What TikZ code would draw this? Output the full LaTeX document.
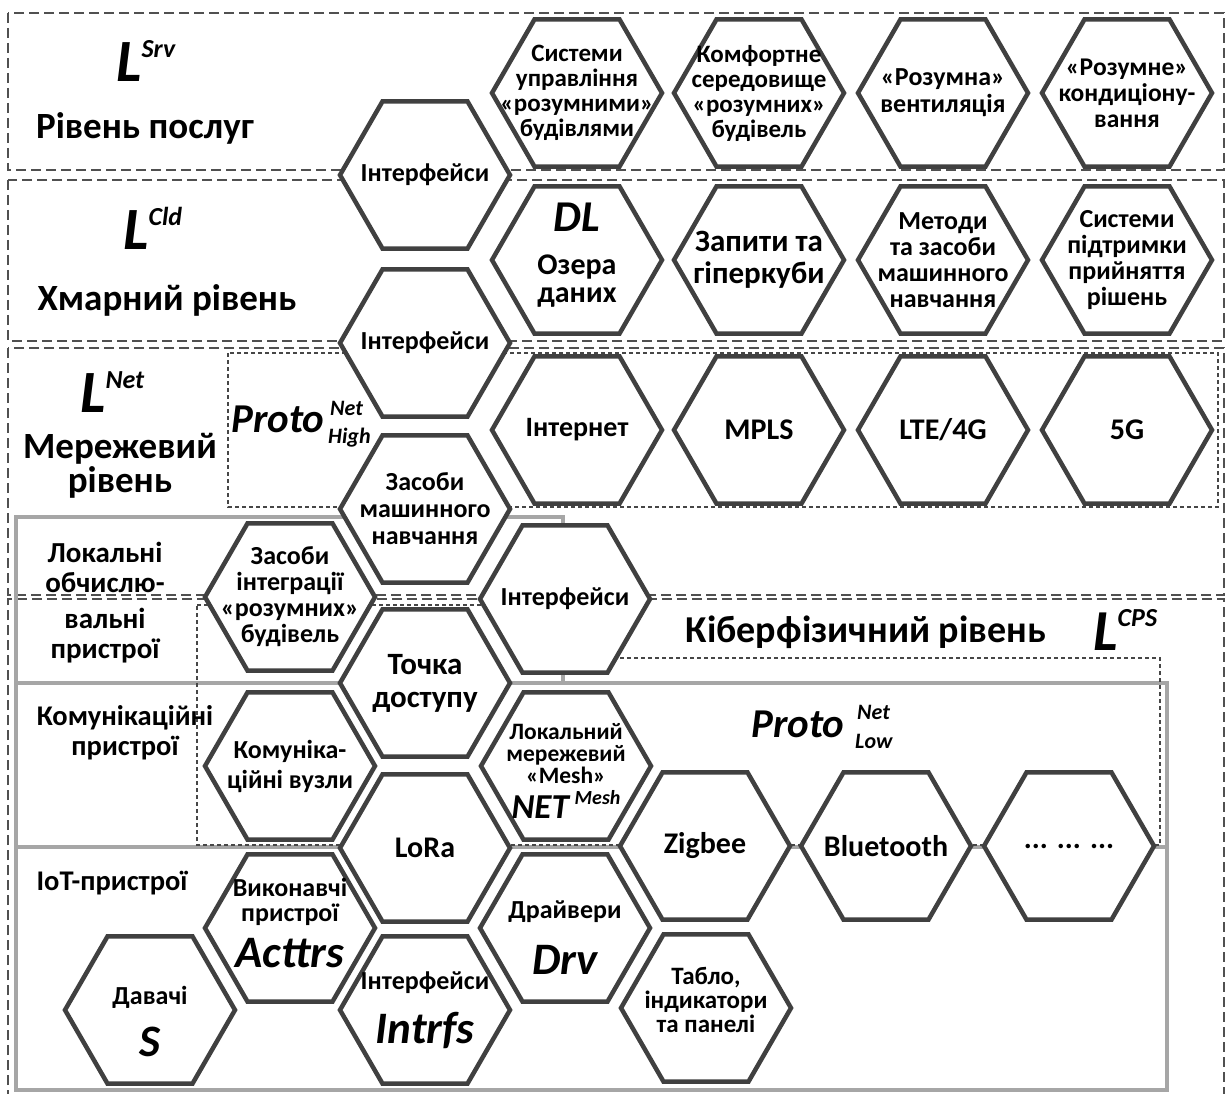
\documentclass[tikz,border=0pt]{standalone}
\usepackage{fontspec}
\setmainfont{Carlito}
\usetikzlibrary{shapes.geometric}
\definecolor{hexgray}{RGB}{64,64,64}
\definecolor{lvlgray}{RGB}{80,80,80}
\definecolor{protogray}{RGB}{70,70,70}
\definecolor{devgray}{RGB}{166,166,166}
\newcommand{\supsz}{\fontsize{26}{26}\selectfont}
\newcommand{\subsz}{\fontsize{22}{22}\selectfont}
\tikzset{
  % рамки рівнів
  lvlbox/.style   = {draw=lvlgray, line width=2.8pt, dash pattern=on 10pt off 5pt},
  protobox/.style = {draw=protogray, line width=1.8pt, dash pattern=on 4pt off 3pt},
  devbox/.style   = {draw=devgray, line width=4pt},
  % шестикутники
  hexcell/.style  = {regular polygon, regular polygon sides=6, minimum size=170pt,
                     inner sep=0pt, outer sep=0pt, draw=hexgray, line width=4.5pt, fill=white},
  hextxt/.style   = {align=center, inner sep=0pt, font=\bfseries\fontsize{25}{25}\selectfont},
  hexmid/.style   = {align=center, inner sep=0pt, font=\bfseries\fontsize{30}{31}\selectfont},
  hexbig/.style   = {inner sep=0pt, font=\bfseries\itshape\fontsize{45}{45}\selectfont},
  % підписи
  lvlname/.style  = {align=center, inner sep=0pt, font=\bfseries\fontsize{37}{34}\selectfont},
  lvlsym/.style   = {inner sep=0pt, font=\bfseries\itshape\fontsize{60}{60}\selectfont},
  devname/.style  = {align=center, inner sep=0pt, font=\bfseries\fontsize{28.5}{30}\selectfont},
}
\begin{document}
\begin{tikzpicture}[x=1pt,y=-1pt]
  \useasboundingbox (0,0) rectangle (1227,1094);

  % рамки рівнів
  \draw[lvlbox] (8,13) rectangle (1224,170);
  \draw[lvlbox] (8,180) rectangle (1224,341);
  \draw[lvlbox] (8,348) rectangle (1224,595);
  \draw[lvlbox] (8,1100) -- (8,599) -- (1224,599) -- (1224,1100);

  % групи пристроїв
  \draw[devbox] (16,517) rectangle (563,683);
  \draw[devbox] (16,683) rectangle (1167,847);
  \draw[devbox] (16,847) rectangle (1167,1090);

  % протоколи
  \draw[protobox] (228,353) rectangle (1218,507);
  \draw[protobox] (197,605) -- (563,605) -- (563,658) -- (1160,658)
    -- (1160,845) -- (197,845) -- cycle;

  % рівень послуг
  \node[lvlsym, anchor=base west] (srvSym) at (116,82) {L\raisebox{24pt}{\supsz Srv}};
  \node[lvlname, anchor=base] (srvName) at (145,139) {Рівень послуг};
  \node[hexcell] (srvBms) at (577,93) {};
  \node[hextxt] at (srvBms) {Системи\\управління\\«розумними»\\будівлями};
  \node[hexcell] (srvComf) at (759,93) {};
  \node[hextxt] at (srvComf) {Комфортне\\середовище\\«розумних»\\будівель};
  \node[hexcell] (srvVent) at (943,93) {};
  \node[hextxt, font=\bfseries\fontsize{26}{27}\selectfont] at (srvVent) {«Розумна»\\вентиляція};
  \node[hexcell] (srvCond) at (1127,93) {};
  \node[hextxt, font=\bfseries\fontsize{25.5}{26}\selectfont] at (srvCond) {«Розумне»\\кондиціону-\\вання};
  \node[hexcell] (ifSrv) at (425,175) {};
  \node[hextxt, font=\bfseries\fontsize{26}{26}\selectfont] at (ifSrv) {Інтерфейси};

  % хмарний рівень
  \node[lvlsym, anchor=base west] (cldSym) at (123,250) {L\raisebox{24pt}{\supsz Cld}};
  \node[lvlname, anchor=base] (cldName) at (167,310) {Хмарний рівень};
  \node[hexcell] (cldLake) at (577,260) {};
  \node[hexbig, font=\bfseries\itshape\fontsize{44}{44}\selectfont, yshift=43pt] at (cldLake) {DL};
  \node[hexmid, font=\bfseries\fontsize{30}{28}\selectfont, yshift=-21pt] at (cldLake) {Озера\\даних};
  \node[hexcell] (cldCube) at (759,260) {};
  \node[hexmid, font=\bfseries\fontsize{31}{32}\selectfont] at (cldCube) {Запити та\\гіперкуби};
  \node[hexcell] (cldMl) at (943,260) {};
  \node[hextxt, font=\bfseries\fontsize{26}{26}\selectfont] at (cldMl) {Методи\\та засоби\\машинного\\навчання};
  \node[hexcell] (cldDss) at (1127,260) {};
  \node[hextxt, font=\bfseries\fontsize{26}{26}\selectfont] at (cldDss) {Системи\\підтримки\\прийняття\\рішень};
  \node[hexcell] (ifCld) at (425,343) {};
  \node[hextxt, font=\bfseries\fontsize{26}{26}\selectfont] at (ifCld) {Інтерфейси};

  % мережевий рівень
  \node[lvlsym, anchor=base west] (netSym) at (80,412) {L\raisebox{24pt}{\supsz Net}};
  \node[lvlname] (netName) at (120,466) {Мережевий\\рівень};
  \node[lvlsym, font=\bfseries\itshape\fontsize{41}{41}\selectfont, anchor=base west] (protoHi) at (231,432) {Proto};
  \node[inner sep=0pt, font=\bfseries\itshape\subsz, anchor=base west] (protoHiSup) at (330,415) {Net};
  \node[inner sep=0pt, font=\bfseries\itshape\subsz, anchor=base west] (protoHiSub) at (328,443) {High};
  \node[hexcell] (netInet) at (577,430) {};
  \node[hexmid, font=\bfseries\fontsize{28}{28}\selectfont] at (netInet) {Інтернет};
  \node[hexcell] (netMpls) at (759,430) {};
  \node[hexmid] at (netMpls) {MPLS};
  \node[hexcell] (netLte) at (943,430) {};
  \node[hexmid] at (netLte) {LTE/4G};
  \node[hexcell] (net5g) at (1127,430) {};
  \node[hexmid] at (net5g) {5G};
  \node[hexcell] (mlTools) at (425,509) {};
  \node[hextxt, font=\bfseries\fontsize{26}{27}\selectfont] at (mlTools) {Засоби\\машинного\\навчання};

  % кіберфізичний рівень
  \node[lvlname, font=\bfseries\fontsize{38}{38}\selectfont, anchor=base] (cpsName) at (866,642) {Кіберфізичний рівень};
  \node[lvlsym, font=\bfseries\itshape\fontsize{58}{58}\selectfont, anchor=base west] (cpsSym) at (1093,650) {L\raisebox{24pt}{\supsz CPS}};
  \node[lvlsym, font=\bfseries\itshape\fontsize{41}{41}\selectfont, anchor=base west] (protoLo) at (751,737) {Proto};
  \node[inner sep=0pt, font=\bfseries\itshape\subsz, anchor=base west] (protoLoSup) at (857,719) {Net};
  \node[inner sep=0pt, font=\bfseries\itshape\subsz, anchor=base west] (protoLoSub) at (855,748) {Low};

  \node[devname, font=\bfseries\fontsize{29}{30}\selectfont] (localName) at (105,603)
    {Локальні\\обчислю-\\[6pt]вальні\\пристрої};
  \node[devname] (commName) at (125,733) {Комунікаційні\\пристрої};
  \node[devname, anchor=base] (iotName) at (112,890) {IoT-пристрої};

  \node[hexcell] (ifNet) at (565,599) {};
  \node[hextxt, font=\bfseries\fontsize{26}{26}\selectfont] at (ifNet) {Інтерфейси};
  \node[hexcell] (bldInteg) at (290,597) {};
  \node[hextxt, font=\bfseries\fontsize{26}{26}\selectfont] at (bldInteg) {Засоби\\інтеграції\\«розумних»\\будівель};
  \node[hexcell] (accessPt) at (425,683) {};
  \node[hexmid, font=\bfseries\fontsize{31}{33}\selectfont] at (accessPt) {Точка\\доступу};
  \node[hexcell] (commNodes) at (290,766) {};
  \node[hextxt, font=\bfseries\fontsize{26}{30}\selectfont] at (commNodes) {Комуніка-\\ційні вузли};
  \node[hexcell] (mesh) at (566,766) {};
  \node[hextxt, font=\bfseries\fontsize{23.5}{22}\selectfont, yshift=12pt] at (mesh) {Локальний\\мережевий\\«Mesh»};
  \node[hexbig, font=\bfseries\itshape\fontsize{35}{35}\selectfont, anchor=base, yshift=-52pt] at (mesh)
    {NET\,\raisebox{14pt}{\fontsize{20}{20}\selectfont Mesh}};
  \node[hexcell] (lora) at (425,848) {};
  \node[hexmid] at (lora) {LoRa};
  \node[hexcell] (zigbee) at (705,846) {};
  \node[hexmid] at (zigbee) {Zigbee};
  \node[hexcell] (bt) at (886,846) {};
  \node[hexmid] at (bt) {Bluetooth};
  \node[hexcell] (more) at (1069,846) {};
  \node[hexmid] at (more) {... ... ...};
  \node[hexcell] (actuators) at (290,928) {};
  \node[hextxt, font=\bfseries\fontsize{26}{25}\selectfont, yshift=26pt] at (actuators) {Виконавчі\\пристрої};
  \node[hexbig, yshift=-25pt] at (actuators) {Acttrs};
  \node[hexcell] (drivers) at (565,928) {};
  \node[hextxt, font=\bfseries\fontsize{26}{26}\selectfont, yshift=16pt] at (drivers) {Драйвери};
  \node[hexbig, yshift=-32pt] at (drivers) {Drv};
  \node[hexcell] (sensors) at (150,1010) {};
  \node[hextxt, font=\bfseries\fontsize{26}{26}\selectfont, yshift=13pt] at (sensors) {Давачі};
  \node[hexbig, yshift=-32pt] at (sensors) {S};
  \node[hexcell] (intrfs) at (425,1010) {};
  \node[hextxt, font=\bfseries\fontsize{26}{26}\selectfont, yshift=27pt] at (intrfs) {Інтерфейси};
  \node[hexbig, yshift=-20pt] at (intrfs) {Intrfs};
  \node[hexcell] (panels) at (706,1008) {};
  \node[hextxt, font=\bfseries\fontsize{25}{24}\selectfont, yshift=8pt] at (panels) {Табло,\\індикатори\\та панелі};
\end{tikzpicture}
\end{document}
